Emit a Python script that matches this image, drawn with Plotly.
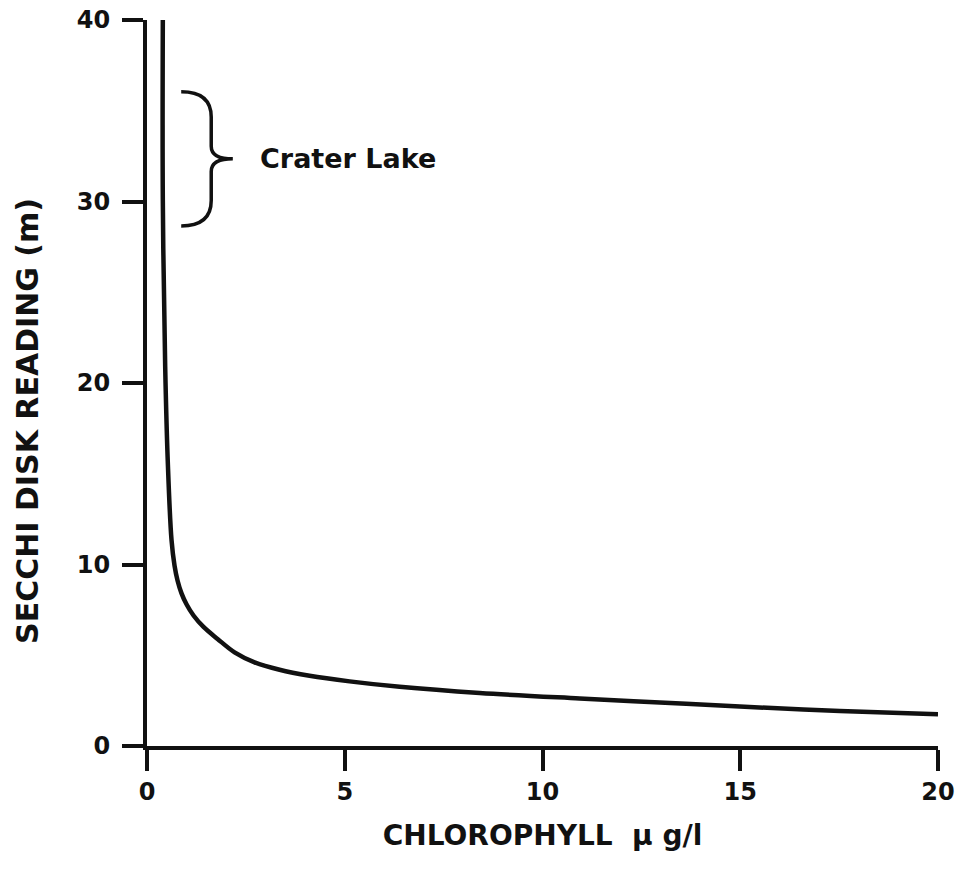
import plotly.graph_objects as go

# Secchi disk transparency versus chlorophyll concentration
chlorophyll = [0.40, 0.40, 0.46, 0.53, 0.620, 0.696, 0.772, 0.873, 0.999, 1.176,
               1.429, 1.784, 2.214, 2.720, 3.352, 4.111, 5.123, 6.388, 8.412,
               10.942, 12.966, 14.99, 17.52, 20.0]
secchi_depth = [40.0, 30.1, 20.9, 15.4, 11.35, 9.94, 9.12, 8.41, 7.81, 7.19,
                6.56, 5.90, 5.16, 4.61, 4.20, 3.87, 3.56, 3.26, 2.92,
                2.62, 2.40, 2.17, 1.93, 1.75]

x_ticks = [0, 5, 10, 15, 20]
y_ticks = [0, 10, 20, 30, 40]

# Range of Secchi readings observed at Crater Lake
crater_lake_range = (28.65, 36.05)
crater_lake_label = "Crater Lake"

FONT = "DejaVu Sans"
INK = "#111111"

fig = go.Figure()
fig.add_trace(go.Scatter(
    x=chlorophyll, y=secchi_depth, mode="lines",
    line=dict(color=INK, width=4.5, shape="spline", smoothing=1.0),
    showlegend=False, hoverinfo="skip",
))

# Curly brace marking the Crater Lake range
lo, hi = crater_lake_range
mid = (lo + hi) / 2
xe, xs, xt = 0.865, 1.624, 2.17
curl = 1.4
neck = 0.7
brace = (
    f"M {xe},{hi} Q {xs},{hi} {xs},{hi - curl} "
    f"L {xs},{mid + neck} Q {xs},{mid} {xt},{mid} "
    f"Q {xs},{mid} {xs},{mid - neck} "
    f"L {xs},{lo + curl} Q {xs},{lo} {xe},{lo}"
)
fig.add_shape(type="path", path=brace, xref="x", yref="y",
              line=dict(color=INK, width=3.5), layer="above")

fig.add_annotation(x=2.80, y=mid, xref="x", yref="y", text=crater_lake_label,
                   showarrow=False, xanchor="left", yanchor="middle",
                   font=dict(family=FONT, size=27, color=INK, weight="bold"))

# Vertical axis title
fig.add_annotation(x=-0.152, y=17.9, xref="paper", yref="y",
                   text="SECCHI DISK READING (m)", textangle=-90,
                   showarrow=False, xanchor="center", yanchor="middle",
                   font=dict(family=FONT, size=30, color=INK, weight="bold"))

axis_common = dict(
    showline=True, linewidth=4, linecolor=INK,
    ticks="outside", ticklen=21, tickwidth=4, tickcolor=INK,
    showgrid=False, zeroline=False, automargin=False,
    tickfont=dict(family=FONT, size=24, color=INK, weight="bold"),
)

fig.update_layout(
    width=960, height=874,
    margin=dict(l=147, r=22, t=20, b=128, autoexpand=False),
    paper_bgcolor="white", plot_bgcolor="white",
    xaxis=dict(range=[0, 20], tickvals=x_ticks, ticklabelstandoff=0,
               title=dict(text="CHLOROPHYLL  µ g/l", standoff=22,
                          font=dict(family=FONT, size=28, color=INK, weight="bold")),
               **axis_common),
    yaxis=dict(range=[0, 40], tickvals=y_ticks, ticklabelstandoff=7,
               **axis_common),
)

fig.write_html("out.html")
